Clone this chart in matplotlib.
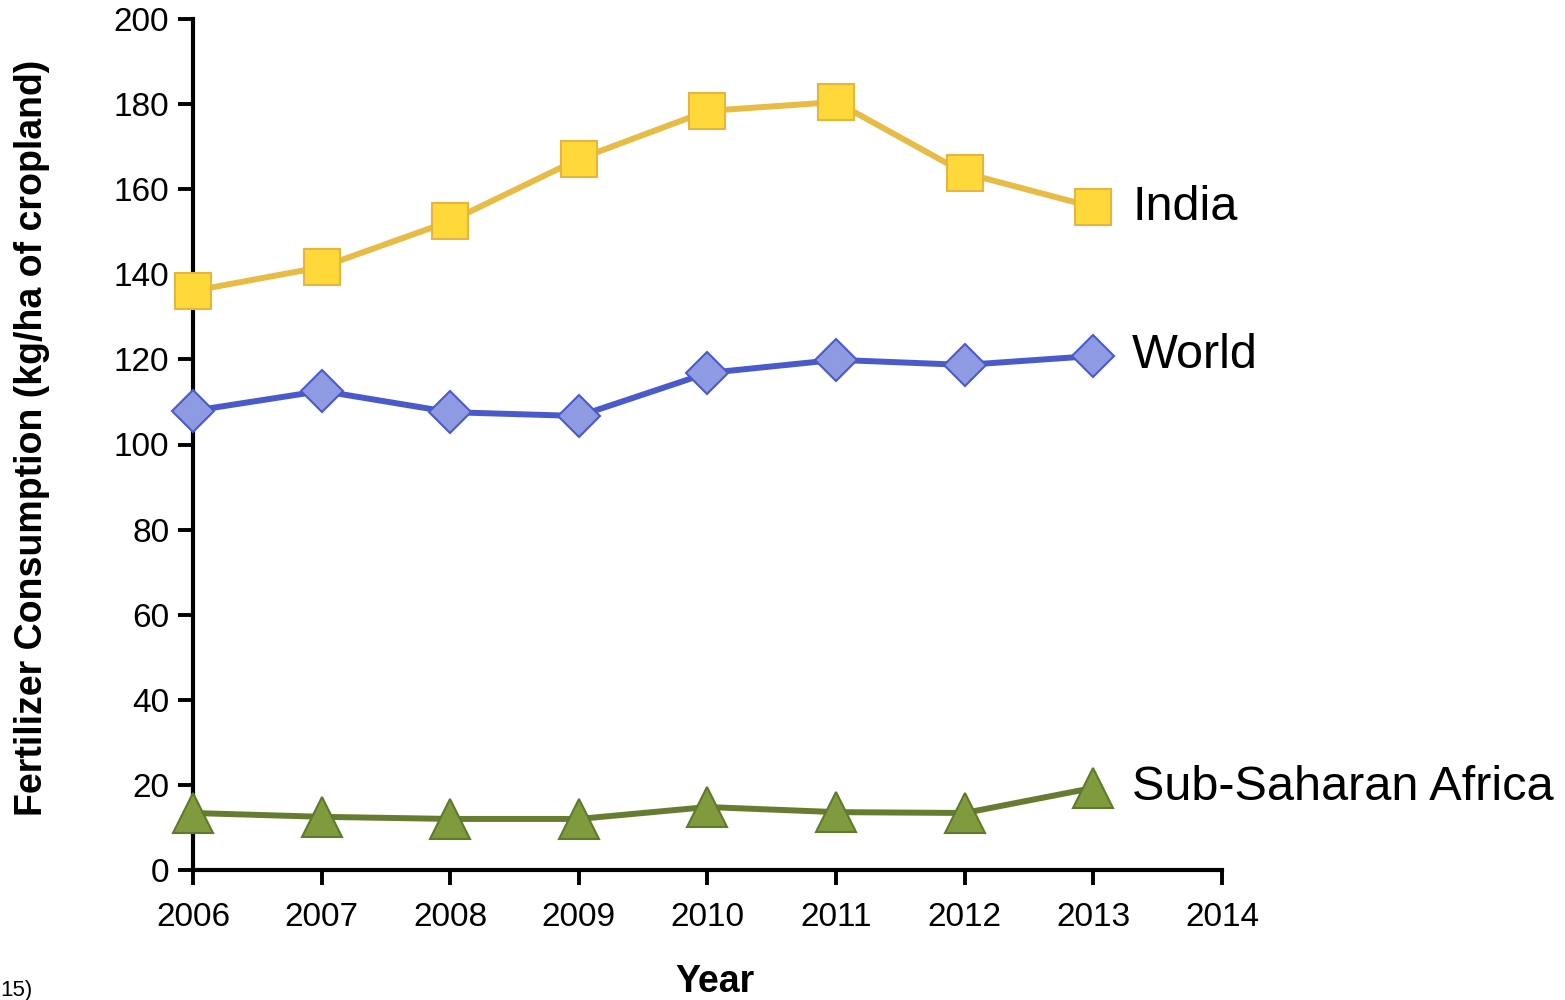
import matplotlib
matplotlib.use("Agg")
import matplotlib.pyplot as plt

years = [2006, 2007, 2008, 2009, 2010, 2011, 2012, 2013]
india = [136.1, 141.7, 152.5, 167.1, 178.4, 180.5, 163.8, 155.8]
world = [107.9, 112.6, 107.6, 106.7, 116.8, 119.9, 118.7, 120.8]
ssa = [13.4, 12.5, 12.0, 12.0, 14.8, 13.6, 13.4, 19.3]
series_names = ["India", "World", "Sub-Saharan Africa"]
xticks = [2006, 2007, 2008, 2009, 2010, 2011, 2012, 2013, 2014]
yticks = [0, 20, 40, 60, 80, 100, 120, 140, 160, 180, 200]

plt.rcParams['font.family'] = ['Liberation Sans', 'DejaVu Sans']

fig = plt.figure(figsize=(15.65, 10), dpi=100)
ax = fig.add_axes([0.1233, 0.13, 0.6575, 0.851])

ax.plot(years, india, color='#E8BB45', lw=4.3, marker='s', ms=26,
        mfc='#FFD83A', mec='#E6B540', mew=1.5, zorder=3, clip_on=False)
ax.plot(years, world, color='#4A5ACB', lw=4.3, marker='D', ms=21,
        mfc='#8E9BE2', mec='#4A5ACB', mew=1.5, zorder=3, clip_on=False)
ax.plot(years, ssa, color='#667D31', lw=4.3, marker='^', ms=29,
        mfc='#809B3D', mec='#5E7A2A', mew=1.5, zorder=3, clip_on=False)

for name, vals in zip(series_names, [india, world, ssa]):
    ax.annotate(name, xy=(years[-1], vals[-1]), xytext=(28, 0),
                textcoords='offset points', fontsize=35, va='center', ha='left',
                annotation_clip=False)

ax.set_xlim(2006, 2014)
ax.set_ylim(0, 200)
ax.set_xticks(xticks)
ax.set_yticks(yticks)
ax.tick_params(axis='both', labelsize=24, width=2.8, length=11, direction='out')
ax.tick_params(axis='x', pad=12)
ax.tick_params(axis='y', pad=6)
for s in ['top', 'right']:
    ax.spines[s].set_visible(False)
for s in ['left', 'bottom']:
    ax.spines[s].set_linewidth(3)

ax.set_ylabel('Fertilizer Consumption (kg/ha of cropland)', fontsize=27,
              fontweight='bold')
ax.yaxis.set_label_coords(-0.139, 0.508)
fig.text(0.457, 0.008, 'Year', fontsize=27, fontweight='bold', ha='center', va='baseline')
fig.text(0.0, 0.004, '15)', fontsize=16, ha='left', va='baseline')

fig.savefig('out.png', dpi=100)
